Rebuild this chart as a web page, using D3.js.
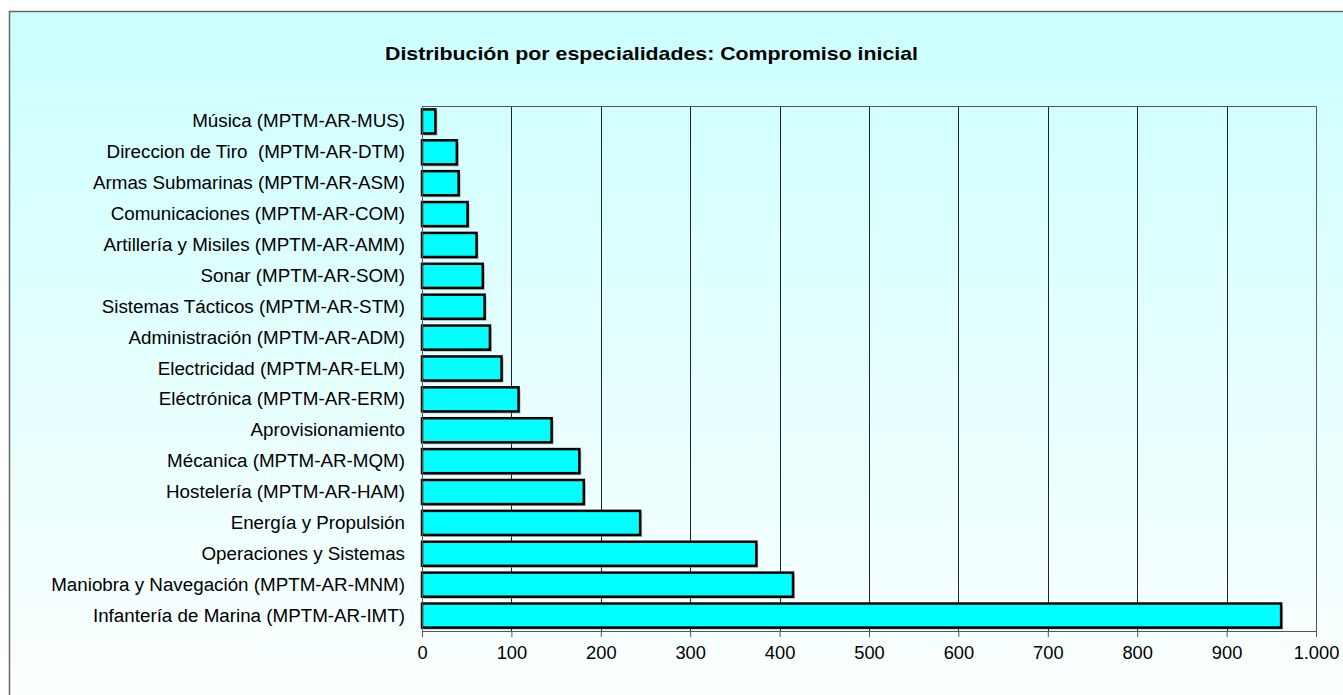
<!DOCTYPE html>
<html><head><meta charset="utf-8">
<script src="https://cdn.jsdelivr.net/npm/d3@7"></script>
<style>body{margin:0;background:#fff}svg{display:block}text{white-space:pre}</style>
</head><body>
<svg id="c" width="1343" height="695"></svg>
<script>
const categories = [
 "Música (MPTM-AR-MUS)",
 "Direccion de Tiro  (MPTM-AR-DTM)",
 "Armas Submarinas (MPTM-AR-ASM)",
 "Comunicaciones (MPTM-AR-COM)",
 "Artillería y Misiles (MPTM-AR-AMM)",
 "Sonar (MPTM-AR-SOM)",
 "Sistemas Tácticos (MPTM-AR-STM)",
 "Administración (MPTM-AR-ADM)",
 "Electricidad (MPTM-AR-ELM)",
 "Eléctrónica (MPTM-AR-ERM)",
 "Aprovisionamiento",
 "Mécanica (MPTM-AR-MQM)",
 "Hostelería (MPTM-AR-HAM)",
 "Energía y Propulsión",
 "Operaciones y Sistemas",
 "Maniobra y Navegación (MPTM-AR-MNM)",
 "Infantería de Marina (MPTM-AR-IMT)"
];
const values = [15, 39, 41, 51, 61, 68, 70, 76, 89, 108, 145, 176, 181, 244, 374, 415, 961];
const tickValues = [0,100,200,300,400,500,600,700,800,900,1000];
const title = "Distribución por especialidades: Compromiso inicial";

const FONT = "Liberation Sans, Arial, sans-serif";
const svg = d3.select("#c");
const defs = svg.append("defs");
const g = defs.append("linearGradient").attr("id","bg").attr("x1",0).attr("y1",0).attr("x2",0).attr("y2",1);
g.append("stop").attr("offset","0%").attr("stop-color","#ccffff");
g.append("stop").attr("offset","100%").attr("stop-color","#fdffff");

svg.append("rect").attr("x",9.5).attr("y",11.5).attr("width",1345).attr("height",700)
  .attr("fill","url(#bg)").attr("stroke","#666").attr("stroke-width",1.5);

const L=422, R=1316, T=106, B=631;
const x = d3.scaleLinear().domain([0,1000]).range([L,R]);
const y = d3.scaleBand().domain(categories).range([T,B]).paddingInner(0.22).paddingOuter(0.11);

svg.append("text").attr("x",385).attr("y",60)
  .attr("font-family",FONT).attr("font-weight","bold")
  .attr("font-size",19).attr("fill","#000")
  .attr("textLength",533).attr("lengthAdjust","spacingAndGlyphs").text(title);

// gridlines
svg.append("g").selectAll("line").data(tickValues.slice(1,-1)).join("line")
  .attr("x1",d=>Math.round(x(d))+0.5).attr("x2",d=>Math.round(x(d))+0.5)
  .attr("y1",T).attr("y2",B).attr("stroke","#222").attr("stroke-width",1);
// plot border top/right
svg.append("path").attr("d",`M${L},${T+0.5}H${R+0.5}V${B}`).attr("fill","none").attr("stroke","#555").attr("stroke-width",1);

// shadows
svg.append("g").selectAll("rect").data(values).join("rect")
  .attr("x",x(0)+2).attr("y",(d,i)=>y(categories[i])+2)
  .attr("width",d=>x(d)-x(0)).attr("height",y.bandwidth())
  .attr("fill","#888").attr("opacity",0.6);
// bars
svg.append("g").selectAll("rect").data(values).join("rect")
  .attr("x",x(0)).attr("y",(d,i)=>y(categories[i]))
  .attr("width",d=>x(d)-x(0)).attr("height",y.bandwidth())
  .attr("fill","#00ffff").attr("stroke","#000").attr("stroke-width",2.5);

// x axis
const xa = svg.append("g").attr("transform",`translate(0,${B})`)
  .call(d3.axisBottom(x).tickValues(tickValues).tickSize(6).tickPadding(9)
    .tickFormat(d=>d3.format(",")(d).replace(",",".")));
xa.select(".domain").attr("stroke","#555");
xa.selectAll("line").attr("stroke","#555");
xa.selectAll("text").attr("font-family",FONT).attr("font-size",18.3).attr("fill","#000");

// y axis
const ya = svg.append("g").attr("transform",`translate(${L},0)`)
  .call(d3.axisLeft(y).tickSize(0).tickPadding(17));
ya.select(".domain").attr("stroke","#555");
ya.selectAll("text").attr("font-family",FONT).attr("font-size",18.8).attr("fill","#000");
</script>
</body></html>
